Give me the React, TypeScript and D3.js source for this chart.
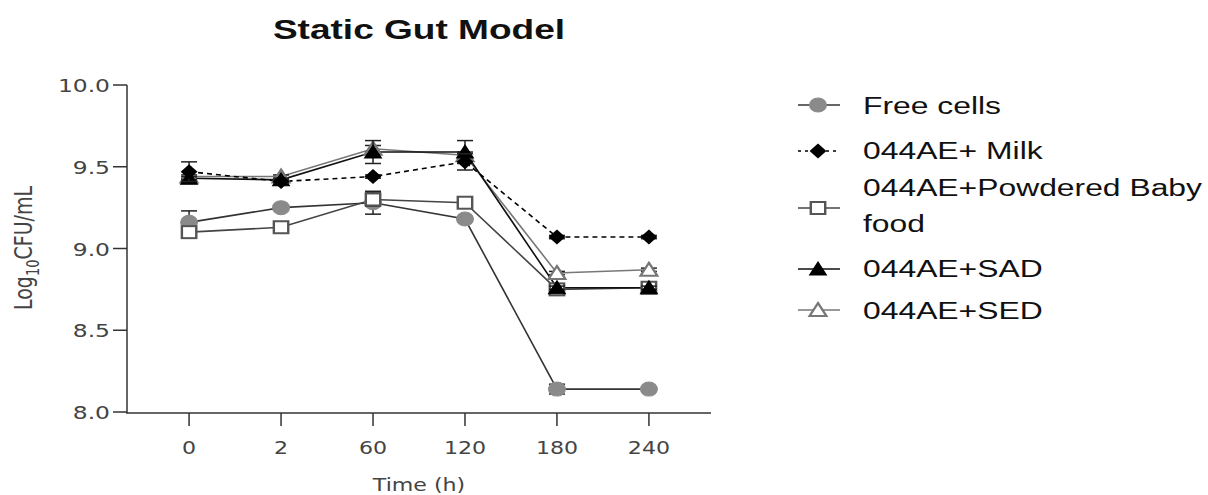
import React from "react";
import * as d3 from "d3";

const categories = ["0", "2", "60", "120", "180", "240"];
const yTicks = [8.0, 8.5, 9.0, 9.5, 10.0];

const freeCells = [9.16, 9.25, 9.28, 9.18, 8.14, 8.14];
const freeCellsErr = [0.07, 0.01, 0.07, 0.01, 0.03, 0.01];
const milk = [9.47, 9.41, 9.44, 9.53, 9.07, 9.07];
const milkErr = [0.06, 0.01, 0.01, 0.05, 0.01, 0.01];
const babyFood = [9.1, 9.13, 9.3, 9.28, 8.75, 8.76];
const babyFoodErr = [0.02, 0.02, 0.04, 0.01, 0.01, 0.01];
const sad = [9.43, 9.42, 9.59, 9.59, 8.76, 8.76];
const sadErr = [0.01, 0.01, 0.07, 0.07, 0.01, 0.01];
const sed = [9.44, 9.44, 9.61, 9.57, 8.85, 8.87];
const sedErr = [0.01, 0.01, 0.02, 0.02, 0.01, 0.01];

const seriesNames = ["Free cells", "044AE+ Milk", "044AE+Powdered Baby", "044AE+SAD", "044AE+SED"];

const SX = 1.3;

type Series = {
  name: string;
  values: number[];
  err: number[];
  shape: "circle" | "diamond" | "square" | "triangle";
  fill: string;
  stroke: string;
  line: string;
  dash?: string;
};

const series: Series[] = [
  { name: seriesNames[0], values: freeCells, err: freeCellsErr, shape: "circle", fill: "#8a8a8a", stroke: "#8a8a8a", line: "#333" },
  { name: seriesNames[2], values: babyFood, err: babyFoodErr, shape: "square", fill: "#fff", stroke: "#555", line: "#444" },
  { name: seriesNames[4], values: sed, err: sedErr, shape: "triangle", fill: "#fff", stroke: "#777", line: "#777" },
  { name: seriesNames[3], values: sad, err: sadErr, shape: "triangle", fill: "#000", stroke: "#000", line: "#111" },
  { name: seriesNames[1], values: milk, err: milkErr, shape: "diamond", fill: "#000", stroke: "#000", line: "#000", dash: "5,4" },
];

const Marker = ({ s, x, y }: { s: Series; x: number; y: number }) => {
  const t = `translate(${x},${y}) scale(1.2,1)`;
  if (s.shape === "circle") return <circle transform={t} r={7} fill={s.fill} stroke={s.stroke} />;
  if (s.shape === "square")
    return <rect transform={t} x={-6} y={-6} width={12} height={12} fill={s.fill} stroke={s.stroke} strokeWidth={2} />;
  if (s.shape === "diamond") return <path transform={t} d="M0,-7.5L7,0L0,7.5L-7,0Z" fill={s.fill} />;
  return (
    <path transform={t} d="M0,-7L7,6L-7,6Z" fill={s.fill} stroke={s.stroke} strokeWidth={s.fill === "#fff" ? 2 : 1} />
  );
};

const T = ({ x, y, children, anchor = "start", size, family, weight, rotate, fill = "#222" }: any) => (
  <text
    transform={`translate(${x},${y}) scale(${SX},1)${rotate ? ` rotate(${rotate})` : ""}`}
    textAnchor={anchor}
    fontSize={size}
    fontFamily={family}
    fontWeight={weight}
    fill={fill}
  >
    {children}
  </text>
);

export default function App() {
  const W = 1208, H = 495;
  const x = d3.scalePoint<string>().domain(categories).range([127, 711]).padding(0.675);
  const y = d3.scaleLinear().domain([8, 10]).range([412, 85]);
  const sans = "'Liberation Sans', Arial, sans-serif";
  const dv = "'DejaVu Sans', Verdana, sans-serif";

  const legendRows = [
    { s: series[0], ty: [114], my: 105, lines: ["Free cells"] },
    { s: series[4], ty: [159], my: 151, lines: ["044AE+ Milk"] },
    { s: series[1], ty: [196, 232], my: 208, lines: ["044AE+Powdered Baby", "food"] },
    { s: series[3], ty: [277], my: 269, lines: ["044AE+SAD"] },
    { s: series[2], ty: [319], my: 310, lines: ["044AE+SED"] },
  ];

  return (
    <svg width={W} height={H} style={{ position: "absolute", left: 0, top: 0, background: "#fff" }}>
      <rect width={W} height={H} fill="#fff" />
      <T x={419} y={39} anchor="middle" size={28.5} family={sans} weight="bold" fill="#111">Static Gut Model</T>

      {/* axes */}
      <line x1={127} x2={127} y1={y(10)} y2={413} stroke="#333" strokeWidth={1.5} />
      <line x1={126} x2={711} y1={413} y2={413} stroke="#333" strokeWidth={1.5} />
      {yTicks.map((t) => (
        <g key={t}>
          <line x1={113} x2={127} y1={y(t)} y2={y(t)} stroke="#333" strokeWidth={1.5} />
          <T x={110} y={y(t) + 7} anchor="end" size={18} family={dv} fill="#444">{t.toFixed(1)}</T>
        </g>
      ))}
      {categories.map((c) => (
        <g key={c}>
          <line x1={x(c)} x2={x(c)} y1={413} y2={426} stroke="#333" strokeWidth={1.5} />
          <T x={x(c)} y={454} anchor="middle" size={17} family={dv} fill="#444">{c}</T>
        </g>
      ))}
      <T x={419} y={491} anchor="middle" size={17} family={dv} fill="#444">Time (h)</T>
      <text transform={`translate(32,248) scale(${SX},1) rotate(-90)`} textAnchor="middle" fontSize={19} fontFamily={dv} fill="#444">
        Log<tspan fontSize={13} dy={5}>10</tspan><tspan dy={-5}>CFU/mL</tspan>
      </text>

      {/* series */}
      {series.map((s) => {
        const line = d3
          .line<number>()
          .x((_, i) => x(categories[i]) as number)
          .y((v) => y(v));
        return (
          <g key={s.name}>
            <path d={line(s.values) || ""} fill="none" stroke={s.line} strokeWidth={1.6} strokeDasharray={s.dash} />
          </g>
        );
      })}
      {series.map((s) => (
        <g key={s.name + "m"}>
          {s.values.map((v, i) => {
            const cx = x(categories[i]) as number;
            const e = s.err[i];
            return (
              <g key={i}>
                <line x1={cx} x2={cx} y1={y(v + e)} y2={y(v - e)} stroke="#222" strokeWidth={1.5} />
                <line x1={cx - 8} x2={cx + 8} y1={y(v + e)} y2={y(v + e)} stroke="#222" strokeWidth={1.5} />
                <line x1={cx - 8} x2={cx + 8} y1={y(v - e)} y2={y(v - e)} stroke="#222" strokeWidth={1.5} />
                <Marker s={s} x={cx} y={y(v)} />
              </g>
            );
          })}
        </g>
      ))}

      {/* legend */}
      {legendRows.map((r, k) => (
        <g key={k}>
          <line x1={798} x2={840} y1={r.my} y2={r.my} stroke={r.s.line} strokeWidth={1.6} strokeDasharray={r.s.dash ? "3,4" : undefined} />
          <Marker s={r.s} x={818} y={r.my} />
          {r.lines.map((l, j) => (
            <T key={j} x={863} y={r.ty[j]} size={24.5} family={sans} fill="#111">{l}</T>
          ))}
        </g>
      ))}
    </svg>
  );
}
